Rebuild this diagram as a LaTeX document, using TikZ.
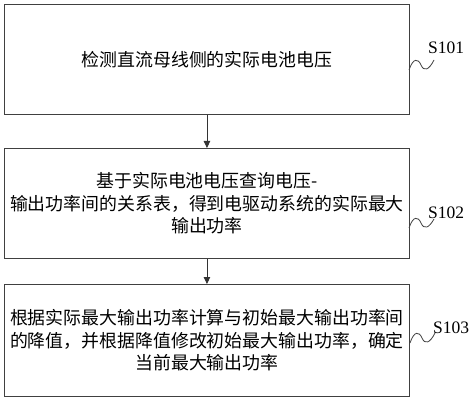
\documentclass[tikz,border=0pt]{standalone}
\usepackage{fontspec}
\setmainfont{Liberation Serif}
\newfontfamily\cjk{Noto Sans CJK SC}
\usetikzlibrary{arrows.meta}
\begin{document}
\begin{tikzpicture}[x=1pt,y=-1pt,
  stepbox/.style={draw=black!75, line width=0.9pt, minimum width=405pt, anchor=north west, inner sep=0pt, align=center, font=\cjk\fontsize{17.9}{22.5}\selectfont},
  lbl/.style={font=\fontsize{17.5}{20}\selectfont, inner sep=0pt, anchor=west},
  sq/.style={draw=black!75, line width=0.8pt},
  conn/.style={draw=black!80, line width=0.9pt, -{Triangle[length=7pt,width=6.5pt]}}]
\useasboundingbox (0,0) rectangle (474,401);
\node[stepbox, minimum height=110pt] (b1) at (4,4) {检测直流母线侧的实际电池电压};
\node[stepbox, minimum height=110pt] (b2) at (4,148) {基于实际电池电压查询电压-\\输出功率间的关系表，得到电驱动系统的实际最大\\输出功率};
\node[stepbox, minimum height=112pt] (b3) at (4,284) {根据实际最大输出功率计算与初始最大输出功率间\\的降值，并根据降值修改初始最大输出功率，确定\\当前最大输出功率};
\draw[conn] (b1.south) -- (b2.north);
\draw[conn] (b2.south) -- (b3.north);
\node[lbl] (l1) at (428,48) {S101};
\node[lbl] (l2) at (428,213) {S102};
\node[lbl] (l3) at (433,328) {S103};
\coordinate (s1a) at (409,70);
\coordinate (s1b) at (434,60);
\draw[sq] (s1a) .. controls (413,58) and (418,58) .. (421,65) .. controls (424,72) and (429,70) .. (s1b);
\coordinate (s2a) at (409,228);
\coordinate (s2b) at (434,219);
\draw[sq] (s2a) .. controls (413,216) and (418,216) .. (421,223) .. controls (424,230) and (429,228) .. (s2b);
\coordinate (s3a) at (410,343);
\coordinate (s3b) at (435,333);
\draw[sq] (s3a) .. controls (414,331) and (419,331) .. (422,338) .. controls (425,345) and (430,343) .. (s3b);
\end{tikzpicture}
\end{document}
